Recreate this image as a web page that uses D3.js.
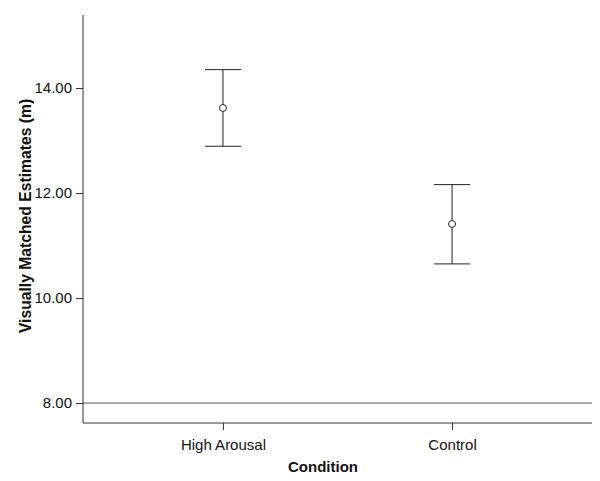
<!DOCTYPE html>
<html><head><meta charset="utf-8">
<script src="https://cdn.jsdelivr.net/npm/d3@7"></script>
<style>body{margin:0;background:#fff}svg{display:block}</style>
</head><body>
<svg id="c" width="600" height="481"></svg>
<script>
const categories = ["High Arousal", "Control"];
const means = [13.62, 11.41];
const upper = [14.35, 12.16];
const lower = [12.89, 10.65];
const yTicks = [8, 10, 12, 14];
const refLine = 8;

const svg = d3.select("#c");
const L = 83, R = 592, T = 15, B = 423;
const x = d3.scalePoint().domain(categories).range([L, R]).padding(0.611);
const y = d3.scaleLinear().domain([7.62, 15.39]).range([B, T]);
const font = "'Liberation Sans', Arial, sans-serif";
const col = "#333";

// y axis
const ya = svg.append("g").attr("transform", `translate(${L},0)`)
  .call(d3.axisLeft(y).tickValues(yTicks).tickFormat(d3.format(".2f")).tickSize(7).tickSizeOuter(0));
ya.attr("font-size", null).attr("font-family", null);
ya.select(".domain").remove();
ya.selectAll("line").attr("stroke", col);
ya.selectAll("text").style("font-family", font).style("font-size", "15px").attr("fill", "#111").attr("x", -11);

// x axis
const xa = svg.append("g").attr("transform", `translate(0,${B})`)
  .call(d3.axisBottom(x).tickSize(7).tickSizeOuter(0));
xa.attr("font-size", null).attr("font-family", null);
xa.select(".domain").remove();
xa.selectAll("line").attr("stroke", col);
xa.selectAll("text").style("font-family", font).style("font-size", "15px").attr("fill", "#111").attr("y", 16).attr("dy", "0.71em");

// axis frame lines
svg.append("line").attr("x1", L).attr("x2", L).attr("y1", T).attr("y2", B).attr("stroke", col);
svg.append("line").attr("x1", L).attr("x2", R).attr("y1", B).attr("y2", B).attr("stroke", col);
// reference line
svg.append("line").attr("x1", L).attr("x2", R).attr("y1", y(refLine)).attr("y2", y(refLine)).attr("stroke", "#555");

// error bars
const data = categories.map((c, i) => ({c, m: means[i], u: upper[i], l: lower[i]}));
const cap = 18;
const g = svg.append("g").attr("stroke", "#222").attr("fill", "none");
data.forEach(d => {
  const cx = x(d.c);
  g.append("line").attr("x1", cx).attr("x2", cx).attr("y1", y(d.u)).attr("y2", y(d.m) - 3.5);
  g.append("line").attr("x1", cx).attr("x2", cx).attr("y1", y(d.m) + 3.5).attr("y2", y(d.l));
  g.append("line").attr("x1", cx - cap).attr("x2", cx + cap).attr("y1", y(d.u)).attr("y2", y(d.u));
  g.append("line").attr("x1", cx - cap).attr("x2", cx + cap).attr("y1", y(d.l)).attr("y2", y(d.l));
  g.append("circle").attr("cx", cx).attr("cy", y(d.m)).attr("r", 3.5);
});

// titles
svg.append("text").attr("x", 323).attr("y", 472).attr("text-anchor", "middle")
  .style("font-family", font).attr("font-weight", "bold").style("font-size", "15px").attr("fill", "#111").text("Condition");
svg.append("text").attr("transform", `translate(31,216) rotate(-90)`).attr("text-anchor", "middle")
  .style("font-family", font).attr("font-weight", "bold").style("font-size", "15.7px").attr("fill", "#111").text("Visually Matched Estimates (m)");
</script>
</body></html>
